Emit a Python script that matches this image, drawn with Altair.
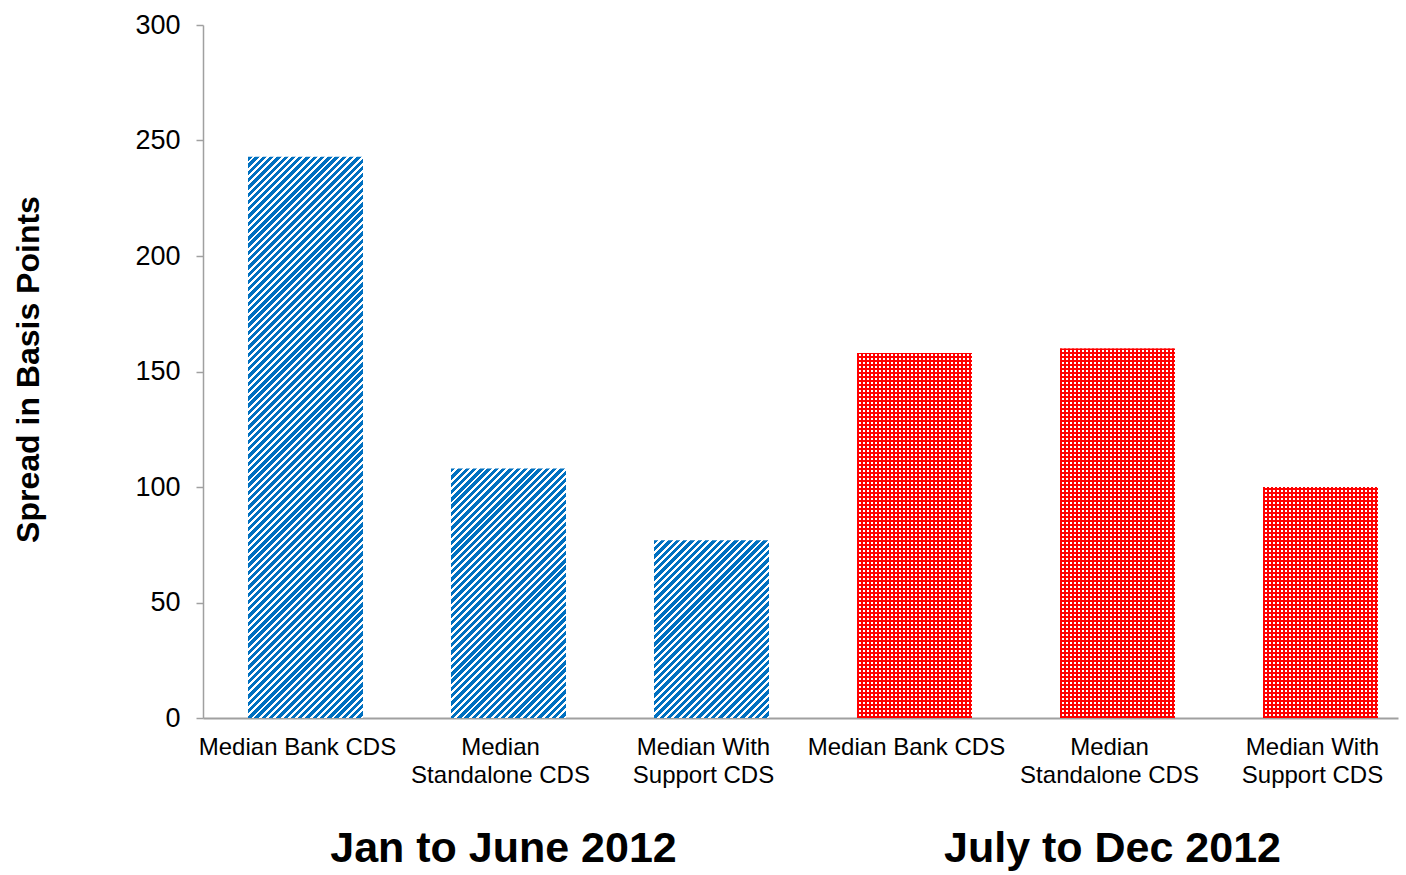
import math
import altair as alt
import pandas as pd

# ---- data ----
groups = ["Jan to June 2012", "July to Dec 2012"]
labels = ["Median Bank CDS", "Median|Standalone CDS", "Median With|Support CDS"]
jan_values = [243, 108, 77]
jul_values = [158, 160, 100]
y_ticks = [0, 50, 100, 150, 200, 250, 300]

keys, vals, grps = [], [], []
for g, vs in zip(groups, [jan_values, jul_values]):
    for l, v in zip(labels, vs):
        keys.append(f"{g}#{l}")
        vals.append(v)
        grps.append(g)
df = pd.DataFrame({"key": keys, "value": vals, "group": grps})
title_df = pd.DataFrame({"key": [keys[1], keys[4]], "text": groups})

# ---- layout ----
W, H = 1195, 693
P_IN, P_OUT, ALIGN = 0.435, 0.152, 0.689
YMAX = 300
step = math.floor(W / (len(keys) - P_IN + 2 * P_OUT))
bar_w = round(step * (1 - P_IN))

BLUE = "#0070C0"
RED = "#FF0000"
RED_T = "rgba(255,0,0,0)"
AXIS_GREY = "#A0A0A0"
FONT = "Liberation Sans"

x_enc = alt.X(
    "key:N",
    scale=alt.Scale(domain=keys, paddingInner=P_IN, paddingOuter=P_OUT,
                    align=ALIGN, round=True),
    axis=alt.Axis(
        title=None, ticks=False, tickSize=0, labelAngle=0, labelPadding=17,
        labelOffset=-8, labelLimit=0,
        labelExpr="split(split(datum.value, '#')[1], '|')",
        labelFont=FONT, labelFontSize=24, labelColor="black", labelLineHeight=28,
        labelBaseline="top", domainColor=AXIS_GREY, domainWidth=2, grid=False,
    ),
)
y_enc = alt.Y(
    "value:Q",
    scale=alt.Scale(domain=[0, YMAX], nice=False),
    axis=alt.Axis(
        values=y_ticks, title="Spread in Basis Points", grid=False,
        tickSize=7, tickColor=AXIS_GREY, tickWidth=1.5,
        domainColor=AXIS_GREY, domainWidth=1.5,
        labelFont=FONT, labelFontSize=27, labelColor="black", labelPadding=16,
        titleFont=FONT, titleFontSize=32, titleFontWeight="bold", titleColor="black",
        titleX=-175, titleY=344, titleAngle=270, titleAlign="center",
        titleBaseline="middle",
    ),
)


def stripes(n_periods, frac, c_on, c_off):
    stops = []
    for k in range(n_periods):
        a = k / n_periods
        b = (k + frac) / n_periods
        c = (k + 1) / n_periods
        stops += [
            {"offset": a, "color": c_on},
            {"offset": b, "color": c_on},
            {"offset": b, "color": c_off},
            {"offset": c, "color": c_off},
        ]
    return stops


def pixel_stripes(length, period, on, c_on, c_off):
    """Stripes with an exact pixel period along a side of `length` pixels."""
    stops = []
    k = 0
    while k * period < length:
        a = k * period / length
        b = min(1.0, (k * period + on) / length)
        c = min(1.0, (k + 1) * period / length)
        stops += [
            {"offset": a, "color": c_on},
            {"offset": b, "color": c_on},
            {"offset": b, "color": c_off},
            {"offset": c, "color": c_off},
        ]
        k += 1
    return stops


layers = []
for key, v, g in zip(keys, vals, grps):
    h = v / YMAX * H
    base = alt.Chart(df).transform_filter(alt.datum.key == key)
    if g == groups[0]:
        # 45-degree diagonal hatch
        n = max(1, round((bar_w + h) / 7.3))
        k = (bar_w + h) / (bar_w ** 2 + h ** 2)
        grad = {
            "gradient": "linear",
            "x1": 0, "y1": 0, "x2": bar_w * k, "y2": h * k,
            "stops": stripes(n, 0.6, BLUE, "#FFFFFF"),
        }
        layers.append(base.mark_bar(color=grad).encode(x=x_enc, y=y_enc))
    else:
        # small white dots on red: white base, red column stripes, red row stripes
        gv = {"gradient": "linear", "x1": 0, "y1": 0, "x2": 1, "y2": 0,
              "stops": pixel_stripes(bar_w, 4, 2, RED, RED_T)}
        gh = {"gradient": "linear", "x1": 0, "y1": 1, "x2": 0, "y2": 0,
              "stops": pixel_stripes(h, 4, 2, RED, RED_T)}
        layers.append(base.mark_bar(color="#FFFFFF").encode(x=x_enc, y=y_enc))
        layers.append(base.mark_bar(color=gv).encode(x=x_enc, y=y_enc))
        layers.append(base.mark_bar(color=gh).encode(x=x_enc, y=y_enc))

titles = alt.Chart(title_df).mark_text(
    font=FONT, fontSize=43, fontWeight="bold", color="black",
    baseline="alphabetic", align="center", dx=-5,
).encode(x=x_enc, y=alt.value(837), text="text:N")
layers.append(titles)

chart = alt.layer(*layers).properties(
    width=W, height=H,
    autosize=alt.AutoSizeParams(type="none"),
    padding={"left": 203, "top": 25, "right": 5, "bottom": 154},
    background="white",
).configure_view(stroke=None)

chart.save("out.html", embed_options={"renderer": "svg", "actions": False})
